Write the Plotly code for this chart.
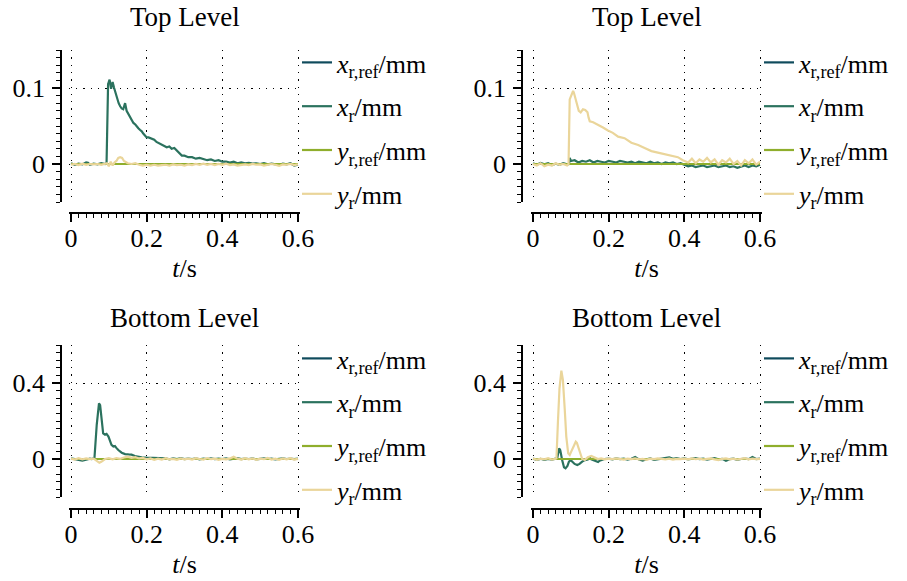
import plotly.graph_objects as go

W, H = 907, 581
FONT = "Liberation Serif"
FS = 26

C_XREF = "#0f4b5c"
C_X = "#2b725e"
C_YREF = "#8fae2c"
C_Y = "#ead59a"

NAMES = ["<i>x</i><sub>r,ref</sub>/mm", "<i>x</i><sub>r</sub>/mm",
         "<i>y</i><sub>r,ref</sub>/mm", "<i>y</i><sub>r</sub>/mm"]
TITLES = ["Top Level", "Top Level", "Bottom Level", "Bottom Level"]

# reference signals (zero commands)
t_ref = [0.0, 0.6]
ref_zero = [0.0, 0.0]

# ---------- Top level, left panel ----------
t_tl_x = [0, 0.01, 0.02, 0.03, 0.04, 0.045, 0.05, 0.06, 0.07, 0.08, 0.09, 0.094, 0.098, 0.102, 0.106,
          0.11, 0.114, 0.118, 0.122, 0.126, 0.13, 0.134, 0.138, 0.143, 0.147, 0.152, 0.156, 0.16, 0.165,
          0.17, 0.174, 0.178, 0.182, 0.187, 0.191, 0.196, 0.2, 0.205, 0.21, 0.215, 0.22, 0.226, 0.233,
          0.24, 0.247, 0.253, 0.26, 0.266, 0.273, 0.279, 0.286, 0.293, 0.3, 0.31, 0.32, 0.33, 0.34, 0.35,
          0.36, 0.37, 0.38, 0.39, 0.4, 0.41, 0.42, 0.43, 0.44, 0.45, 0.46, 0.47, 0.48, 0.49, 0.5, 0.51,
          0.52, 0.53, 0.54, 0.55, 0.56, 0.57, 0.58, 0.59, 0.6]
x_tl = [0.001, -0.001, 0.0005, -0.0005, 0.002, 0.0015, -0.001, 0.0005, -0.0005, 0.001, 0.0, 0.001, 0.105,
        0.111, 0.099, 0.108, 0.1, 0.093, 0.085, 0.08, 0.076, 0.073, 0.072, 0.08, 0.07, 0.066, 0.061, 0.058,
        0.054, 0.052, 0.049, 0.047, 0.045, 0.043, 0.04, 0.037, 0.035, 0.035, 0.034, 0.034, 0.032, 0.029,
        0.027, 0.025, 0.024, 0.022, 0.023, 0.02, 0.021, 0.018, 0.015, 0.011, 0.011, 0.009, 0.009, 0.007,
        0.008, 0.006, 0.005, 0.006, 0.004, 0.005, 0.003, 0.003, 0.002, 0.003, 0.001, 0.002, 0.001, 0.0015,
        0.0005, 0.001, 0.0, 0.001, -0.0005, 0.0005, 0.0, -0.001, 0.0005, -0.0005, 0.001, -0.002, -0.001]
t_tl_y = [0, 0.01, 0.02, 0.03, 0.04, 0.05, 0.06, 0.07, 0.08, 0.09, 0.095, 0.1, 0.105, 0.11, 0.115, 0.12,
          0.125, 0.13, 0.135, 0.14, 0.145, 0.15, 0.16, 0.17, 0.18, 0.19, 0.2, 0.21, 0.22, 0.23, 0.24, 0.25,
          0.26, 0.27, 0.28, 0.29, 0.3, 0.31, 0.32, 0.33, 0.34, 0.35, 0.36, 0.37, 0.38, 0.39, 0.4, 0.41,
          0.42, 0.43, 0.44, 0.45, 0.46, 0.47, 0.48, 0.49, 0.5, 0.51, 0.52, 0.53, 0.54, 0.55, 0.56, 0.57,
          0.58, 0.59, 0.6]
y_tl = [-0.001, 0.0, -0.0015, 0.0005, -0.001, 0.0, -0.0005, 0.0, -0.001, 0.0005, 0.001, -0.003, 0.003,
        -0.002, 0.002, 0.004, 0.008, 0.009, 0.008, 0.004, 0.002, 0.001, 0.0, 0.001, -0.001, -0.002, -0.001,
        -0.002, -0.001, -0.002, -0.0015, -0.001, -0.002, -0.0005, -0.0015, -0.001, -0.002, -0.0005,
        -0.0015, 0.0, -0.001, 0.0005, -0.001, 0.0, -0.0015, 0.0, -0.001, 0.0005, -0.0015, -0.0005, -0.002,
        -0.001, -0.0005, -0.0015, 0.0, -0.001, -0.0005, -0.002, -0.001, 0.0, -0.001, -0.0025, -0.0005,
        -0.001, 0.0, -0.0015, -0.0005]

# ---------- Top level, right panel ----------
t_tr_x = [0, 0.01, 0.02, 0.03, 0.04, 0.05, 0.06, 0.07, 0.08, 0.09, 0.095, 0.097, 0.1, 0.11, 0.12, 0.13,
          0.14, 0.15, 0.16, 0.17, 0.18, 0.19, 0.2, 0.21, 0.22, 0.23, 0.24, 0.25, 0.26, 0.27, 0.28, 0.29,
          0.3, 0.31, 0.32, 0.33, 0.34, 0.35, 0.36, 0.37, 0.38, 0.39, 0.4, 0.41, 0.42, 0.43, 0.44, 0.45,
          0.46, 0.47, 0.48, 0.49, 0.5, 0.51, 0.52, 0.53, 0.54, 0.55, 0.56, 0.57, 0.58, 0.59, 0.6]
x_tr = [0.001, -0.001, 0.0015, -0.0005, 0.001, -0.0015, 0.0005, -0.001, 0.001, -0.0005, 0.0, 0.008, 0.004,
        0.005, 0.002, 0.004, 0.003, 0.005, 0.002, 0.004, 0.003, 0.002, 0.004, 0.003, 0.002, 0.004, 0.003,
        0.002, 0.003, 0.001, 0.003, 0.002, 0.001, 0.003, 0.001, 0.002, 0.0, 0.002, 0.001, 0.002, 0.0,
        0.001, -0.001, -0.003, -0.002, -0.004, -0.003, -0.002, -0.004, -0.003, -0.002, -0.004, -0.003,
        -0.002, -0.004, -0.003, -0.005, -0.003, -0.002, -0.004, -0.002, -0.003, -0.001]
t_tr_y = [0, 0.01, 0.02, 0.03, 0.04, 0.05, 0.06, 0.07, 0.08, 0.09, 0.094, 0.097, 0.101, 0.106, 0.108,
          0.112, 0.116, 0.121, 0.126, 0.132, 0.138, 0.144, 0.147, 0.15, 0.159, 0.172, 0.185, 0.198, 0.211,
          0.225, 0.242, 0.26, 0.278, 0.295, 0.313, 0.33, 0.348, 0.366, 0.383, 0.396, 0.41, 0.42, 0.43,
          0.44, 0.45, 0.46, 0.47, 0.48, 0.49, 0.5, 0.51, 0.52, 0.53, 0.54, 0.55, 0.56, 0.57, 0.58, 0.59, 0.6]
y_tr = [0.0, -0.002, 0.001, -0.003, -0.001, -0.002, 0.001, -0.001, 0.0, -0.002, 0.0, 0.085, 0.09, 0.096,
        0.094, 0.087, 0.079, 0.07, 0.068, 0.072, 0.071, 0.068, 0.061, 0.056, 0.055, 0.052, 0.048, 0.044,
        0.041, 0.036, 0.034, 0.028, 0.025, 0.021, 0.017, 0.015, 0.013, 0.011, 0.009, 0.005, 0.002, 0.007,
        0.001, 0.006, 0.003, 0.008, 0.002, 0.006, -0.001, 0.005, 0.002, 0.007, 0.0, 0.004, -0.002, 0.005,
        0.001, 0.006, -0.001, 0.003]

# ---------- Bottom level, left panel ----------
t_bl_x = [0, 0.01, 0.02, 0.03, 0.04, 0.05, 0.055, 0.062, 0.068, 0.072, 0.074, 0.077, 0.081, 0.085, 0.09,
          0.094, 0.099, 0.103, 0.107, 0.112, 0.116, 0.121, 0.125, 0.134, 0.143, 0.152, 0.16, 0.169, 0.178,
          0.187, 0.2, 0.213, 0.22, 0.23, 0.24, 0.25, 0.26, 0.27, 0.28, 0.29, 0.3, 0.31, 0.32, 0.33, 0.34,
          0.35, 0.36, 0.37, 0.38, 0.39, 0.4, 0.41, 0.42, 0.43, 0.44, 0.45, 0.46, 0.47, 0.48, 0.49, 0.5,
          0.51, 0.52, 0.53, 0.54, 0.55, 0.56, 0.57, 0.58, 0.59, 0.6]
x_bl = [0.003, 0.0, -0.006, -0.008, -0.004, 0.002, 0.0, 0.005, 0.18, 0.28, 0.293, 0.284, 0.205, 0.135,
        0.128, 0.132, 0.118, 0.093, 0.074, 0.066, 0.068, 0.056, 0.047, 0.033, 0.026, 0.024, 0.023, 0.016,
        0.012, 0.009, 0.007, 0.006, 0.003, 0.005, 0.001, 0.004, -0.002, 0.003, 0.0, 0.004, -0.001, 0.002,
        0.0, 0.003, -0.002, 0.002, 0.0, 0.003, -0.001, 0.002, 0.0, 0.003, -0.002, 0.001, 0.004, -0.001,
        0.002, 0.0, 0.003, -0.002, 0.001, 0.003, 0.0, 0.002, -0.002, 0.001, 0.003, 0.0, 0.002, -0.001, 0.002]
t_bl_y = [0, 0.01, 0.02, 0.03, 0.04, 0.05, 0.06, 0.065, 0.07, 0.075, 0.08, 0.085, 0.09, 0.1, 0.11, 0.12,
          0.13, 0.14, 0.15, 0.16, 0.17, 0.18, 0.19, 0.2, 0.21, 0.22, 0.23, 0.24, 0.25, 0.26, 0.27, 0.28,
          0.29, 0.3, 0.31, 0.32, 0.33, 0.34, 0.35, 0.36, 0.37, 0.38, 0.39, 0.4, 0.41, 0.42, 0.43, 0.44,
          0.45, 0.46, 0.47, 0.48, 0.49, 0.5, 0.51, 0.52, 0.53, 0.54, 0.55, 0.56, 0.57, 0.58, 0.59, 0.6]
y_bl = [0.002, -0.003, 0.004, -0.002, 0.003, -0.001, 0.002, -0.004, -0.012, -0.02, -0.015, -0.005, 0.0,
        0.004, -0.002, 0.005, 0.001, 0.008, 0.012, 0.006, 0.01, 0.003, 0.006, -0.002, 0.003, -0.004, 0.002,
        -0.003, 0.004, -0.002, 0.001, -0.004, 0.003, -0.002, 0.002, -0.003, 0.004, 0.0, -0.003, 0.005,
        -0.001, 0.002, -0.004, 0.001, -0.002, 0.003, 0.012, 0.002, -0.003, 0.004, -0.002, 0.003, -0.004,
        0.002, -0.001, 0.006, -0.003, 0.002, -0.004, 0.003, -0.002, 0.004, -0.003, 0.001]

# ---------- Bottom level, right panel ----------
t_br_x = [0, 0.01, 0.02, 0.03, 0.04, 0.05, 0.06, 0.064, 0.069, 0.072, 0.077, 0.082, 0.086, 0.091, 0.095,
          0.1, 0.104, 0.11, 0.117, 0.123, 0.13, 0.137, 0.145, 0.15, 0.154, 0.163, 0.172, 0.176, 0.189, 0.2,
          0.21, 0.22, 0.23, 0.24, 0.25, 0.26, 0.27, 0.28, 0.29, 0.3, 0.31, 0.32, 0.33, 0.34, 0.35, 0.36,
          0.37, 0.38, 0.39, 0.4, 0.41, 0.42, 0.43, 0.44, 0.45, 0.46, 0.47, 0.48, 0.49, 0.5, 0.51, 0.52,
          0.53, 0.54, 0.55, 0.56, 0.57, 0.58, 0.59, 0.6]
x_br = [0.002, -0.004, 0.001, -0.005, 0.0, -0.003, 0.002, 0.004, 0.056, 0.047, -0.005, -0.044, -0.049,
        -0.037, -0.014, -0.006, -0.014, -0.026, -0.032, -0.026, -0.014, -0.006, -0.002, 0.007, -0.002,
        -0.01, -0.016, -0.009, 0.0, 0.002, -0.002, 0.003, -0.001, 0.002, -0.003, 0.001, 0.01, -0.002,
        -0.008, -0.001, 0.003, -0.004, -0.001, 0.002, 0.004, 0.009, 0.001, 0.005, 0.0, 0.003, -0.002,
        0.001, 0.004, -0.001, 0.002, -0.003, 0.001, 0.004, -0.002, 0.001, -0.009, -0.001, 0.002, -0.004,
        0.0, 0.002, -0.001, 0.01, 0.0, 0.002]
t_br_y = [0, 0.01, 0.02, 0.03, 0.04, 0.05, 0.06, 0.062, 0.066, 0.07, 0.075, 0.079, 0.084, 0.088, 0.093,
          0.097, 0.101, 0.107, 0.113, 0.116, 0.121, 0.125, 0.13, 0.137, 0.145, 0.154, 0.163, 0.172, 0.18,
          0.19, 0.2, 0.21, 0.22, 0.23, 0.24, 0.25, 0.26, 0.27, 0.28, 0.29, 0.3, 0.31, 0.32, 0.33, 0.34,
          0.35, 0.36, 0.37, 0.38, 0.39, 0.4, 0.41, 0.42, 0.43, 0.44, 0.45, 0.46, 0.47, 0.48, 0.49, 0.5,
          0.51, 0.52, 0.53, 0.54, 0.55, 0.56, 0.57, 0.58, 0.59, 0.6]
y_br = [0.003, -0.004, 0.002, -0.002, 0.004, -0.003, 0.001, 0.004, 0.2, 0.37, 0.465, 0.416, 0.258, 0.118,
        0.03, 0.021, 0.039, 0.061, 0.091, 0.085, 0.051, 0.021, 0.0, -0.005, 0.009, 0.016, 0.009, 0.0,
        0.003, -0.002, 0.002, -0.001, 0.003, 0.0, -0.003, 0.002, -0.001, 0.003, -0.002, 0.001, -0.004,
        0.002, -0.001, 0.003, 0.0, -0.002, 0.002, -0.003, 0.001, -0.001, 0.002, -0.002, 0.003, -0.001,
        0.002, -0.003, 0.001, 0.003, -0.002, -0.006, 0.001, 0.003, -0.002, 0.002, -0.003, 0.001, 0.004,
        -0.002, 0.002, -0.001, 0.001]

panels = [
    dict(tx=t_tl_x, x=x_tl, ty=t_tl_y, y=y_tl),
    dict(tx=t_tr_x, x=x_tr, ty=t_tr_y, y=y_tr),
    dict(tx=t_bl_x, x=x_bl, ty=t_bl_y, y=y_bl),
    dict(tx=t_br_x, x=x_br, ty=t_br_y, y=y_br),
]

# layout geometry (pixels); x range padded slightly so edge grid lines are drawn
T0, T1 = 0.0, 0.6
PAD = 0.006
XPX = [(71, 298), (533, 760), (71, 298), (533, 760)]
YDOM = [(50, 202), (50, 202), (345, 497), (345, 497)]
YAX_POS = [61, 522, 61, 522]
XAX_POS = [213, 213, 509, 509]
YRANGE = [(-0.05, 0.15), (-0.05, 0.15), (-0.2, 0.6), (-0.2, 0.6)]
YDT = [0.1, 0.1, 0.4, 0.4]
LEG_X = [297, 759, 297, 759]
LEG_Y = [39, 39, 335, 335]
TITLE_Y = [17, 17, 318, 318]

fig = go.Figure()
for i, p in enumerate(panels):
    k = "" if i == 0 else str(i + 1)
    leg = "legend" + k
    series = [(t_ref, ref_zero, C_XREF), (p["tx"], p["x"], C_X),
              (t_ref, ref_zero, C_YREF), (p["ty"], p["y"], C_Y)]
    for j, (tt, vv, col) in enumerate(series):
        fig.add_trace(go.Scatter(
            x=tt, y=vv, mode="lines", name=NAMES[j],
            line=dict(color=col, width=2.2),
            xaxis="x" + k, yaxis="y" + k, legend=leg,
            legendgroup=f"p{i}s{j}", showlegend=True))

axis_common = dict(showline=True, linecolor="black", linewidth=1.5, ticks="outside",
                   tickcolor="black", tickwidth=1.5, ticklen=8, zeroline=False, automargin=False,
                   showgrid=True, gridcolor="black", gridwidth=1.3, griddash="1.3px,6px",
                   tickfont=dict(family=FONT, size=FS, color="black"))

layout = dict(width=W, height=H, margin=dict(l=0, r=0, t=0, b=0, autoexpand=False),
              paper_bgcolor="white", plot_bgcolor="white",
              font=dict(family=FONT, size=FS, color="black"),
              annotations=[])
for i in range(4):
    k = "" if i == 0 else str(i + 1)
    x0, x1 = XPX[i]
    scale = (x1 - x0) / (T1 - T0)
    d0 = x0 - PAD * scale
    d1 = x1 + PAD * scale
    ytop, ybot = YDOM[i]
    layout["xaxis" + k] = dict(
        axis_common, domain=[d0 / W, d1 / W], range=[T0 - PAD, T1 + PAD],
        tickvals=[0, 0.2, 0.4, 0.6], ticktext=["0", "0.2", "0.4", "0.6"],
        anchor="free", position=1 - XAX_POS[i] / H, ticklabelstandoff=-6,
        minor=dict(dtick=0.02, tick0=0, ticklen=4, tickwidth=1.2, tickcolor="black",
                   ticks="outside", showgrid=False),
        title=dict(text="<i>t</i>/s", font=dict(family=FONT, size=FS), standoff=6))
    r0, r1 = YRANGE[i]
    layout["yaxis" + k] = dict(
        axis_common, domain=[1 - ybot / H, 1 - ytop / H], range=[r0, r1],
        tickvals=[0, YDT[i]], ticktext=["0", f"{YDT[i]:g}"],
        anchor="free", position=YAX_POS[i] / W, ticklabelstandoff=2,
        minor=dict(dtick=YDT[i] / 10, tick0=0, ticklen=4, tickwidth=1.2, tickcolor="black",
                   ticks="outside", showgrid=False))
    layout["legend" + k] = dict(
        x=LEG_X[i] / W, y=1 - LEG_Y[i] / H, xanchor="left", yanchor="top",
        bgcolor="rgba(0,0,0,0)", borderwidth=0, tracegroupgap=7,
        font=dict(family=FONT, size=FS, color="black"))
    layout["annotations"].append(dict(
        text=TITLES[i], x=(x0 + x1) / 2 / W, y=1 - TITLE_Y[i] / H, xref="paper", yref="paper",
        xanchor="center", yanchor="middle", showarrow=False,
        font=dict(family=FONT, size=27, color="black")))

fig.update_layout(**layout)
fig.write_html("out.html", config={"displayModeBar": False},
               post_script="document.body.style.margin='0';")
